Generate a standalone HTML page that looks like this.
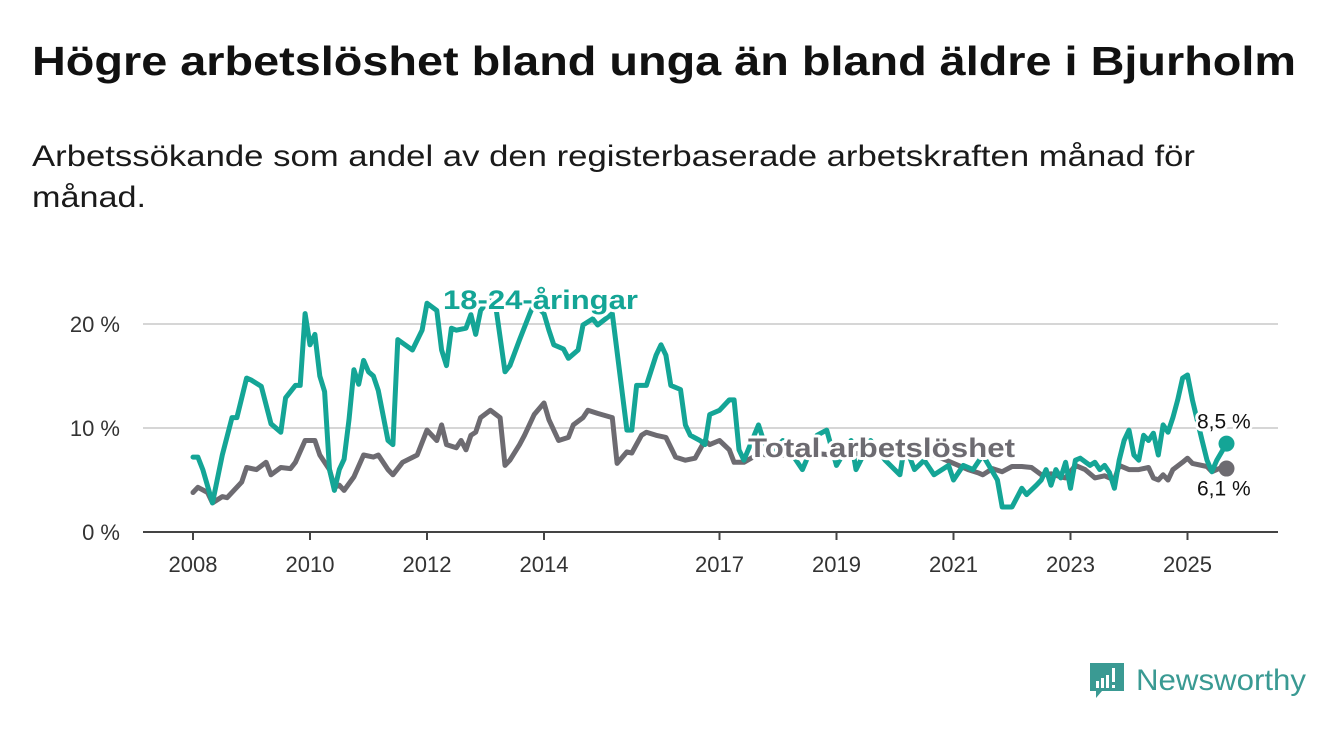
<!DOCTYPE html>
<html><head><meta charset="utf-8">
<style>
html,body{margin:0;padding:0;background:#fff;}
svg{display:block;font-family:"Liberation Sans",sans-serif;}
</style></head>
<body>
<svg id="chart" width="1340" height="734" viewBox="0 0 1340 734" xmlns="http://www.w3.org/2000/svg">
<text x="32" y="75" font-size="41" font-weight="bold" fill="#111" textLength="1264" lengthAdjust="spacingAndGlyphs">Högre arbetslöshet bland unga än bland äldre i Bjurholm</text>
<text x="32" y="166" font-size="30" fill="#1a1a1a" textLength="1163" lengthAdjust="spacingAndGlyphs">Arbetssökande som andel av den registerbaserade arbetskraften månad för</text>
<text x="32" y="207" font-size="30" fill="#1a1a1a" textLength="114" lengthAdjust="spacingAndGlyphs">månad.</text>
<g id="grid"></g>
<g id="series"></g>
<g id="labels"></g>
<g>
<path d="M1090 663 h34 v28 h-22 l-6 7 v-7 h-6 z" fill="#3a9a93"/>
<rect x="1096" y="681" width="3" height="7" fill="#fff"/>
<rect x="1101" y="678" width="3" height="10" fill="#fff"/>
<rect x="1106" y="675" width="3" height="13" fill="#fff"/>
<rect x="1112" y="668" width="3" height="14" fill="#fff"/>
<rect x="1112" y="685" width="3" height="3" fill="#fff"/>
<text x="1136" y="690" font-size="30" fill="#3a9a93" textLength="170" lengthAdjust="spacingAndGlyphs">Newsworthy</text>
</g>
</svg>
<script>
// months since Jan 2008
const youthMonths=[0,1,2,4,6,8,9,11,12,14,16,18,19,21,22,23,24,25,26,27,28,29,30,31,32,33,34,35,36,37,38,40,41,42,45,47,48,50,51,52,53,54,56,57,58,59,61,62,64,65,67,69,70,72,73,74,76,77,79,80,82,83,86,89,90,91,93,95,96,97,98,100,101,102,104,105,106,108,110,111,112,113,116,118,121,125,128,130,132,135,136,139,142,145,146,148,150,152,155,156,158,160,162,165,166,168,170,171,173,174,175,176,177,178,179,180,181,182,184,185,186,187,188,189,190,191,192,193,194,195,196,197,198,199,200,201,202,203,204,205,207,208,209,210,212];
const youthValues=[7.2,7.2,6.0,2.8,7.4,11,11,14.8,14.6,14,10.4,9.6,12.9,14.1,14.1,21,18,19,15,13.5,6,4,6,7,10.8,15.6,14.2,16.5,15.4,15,13.6,8.8,8.4,18.5,17.5,19.4,22,21.3,17.5,16,19.6,19.4,19.6,20.9,19,21.3,22.5,22,15.4,16,18.5,20.9,22,21,19.4,18,17.6,16.7,17.5,19.9,20.5,19.9,21,9.8,9.8,14.1,14.1,17,18,17,14.1,13.7,10.3,9.3,8.8,8.4,11.3,11.7,12.7,12.7,7.9,6.9,10.3,7.4,8.8,6,9.3,9.8,6.4,8.8,6,8.8,6.9,5.5,8.4,6,6.9,5.5,6.4,5,6.4,6,7.4,5,2.4,2.4,4.2,3.6,4.5,5,6,4.5,6,5.2,6.7,4.2,6.9,7.1,6.4,6.7,6.0,6.4,5.7,4.2,6.9,8.8,9.8,7.4,6.9,9.3,8.8,9.5,7.4,10.3,9.6,11,12.7,14.8,15.1,12.7,8.8,6.9,5.8,6.9,8.5];
const totalMonths=[0,1,3,4,6,7,10,11,13,15,16,18,20,21,23,25,26,28,29,30,31,33,35,37,38,40,41,43,46,48,50,51,52,54,55,56,57,58,59,61,63,64,65,67,68,70,72,73,75,77,78,80,81,83,86,87,89,90,92,93,95,97,99,101,103,105,106,108,110,111,113,116,120,125,129,133,137,141,145,149,153,157,159,161,162,164,166,168,170,172,174,176,178,179,181,183,185,187,189,190,192,194,196,197,198,199,200,201,203,204,205,208,209,211,212];
const totalValues=[3.8,4.3,3.8,2.8,3.4,3.3,4.8,6.2,6,6.7,5.5,6.2,6.1,6.7,8.8,8.8,7.4,6,4.3,4.5,4,5.3,7.4,7.2,7.4,6,5.5,6.7,7.4,9.8,8.8,10.3,8.4,8.1,8.8,7.9,9.3,9.6,11,11.7,11,6.4,6.9,8.4,9.3,11.3,12.4,10.8,8.8,9.1,10.3,11,11.7,11.4,11,6.6,7.7,7.6,9.3,9.6,9.3,9.1,7.2,6.9,7.1,8.8,8.4,8.8,7.9,6.7,6.7,7.5,7.3,7.8,7.5,7.3,7.6,7.8,8.3,7.8,7.2,6.4,6,5.7,5.5,6.1,5.8,6.3,6.3,6.2,5.5,5.6,5.3,5.2,6.4,6,5.2,5.4,5,6.4,6,6,6.2,5.2,5,5.5,5,6,6.7,7.1,6.6,6.3,5.8,6.2,6.1];
const yTicks=[0,10,20];
const yTickLabels=["0 %","10 %","20 %"];
const xTicks=[2008,2010,2012,2014,2017,2019,2021,2023,2025];

const NS="http://www.w3.org/2000/svg";
const X0=143,X1=1278;
function xYear(y){return 193+(y-2008)*58.5;}
function xMonth(m){return xYear(2008+m/12);}
function yVal(v){return 532-v*10.4;}
function mk(tag,attrs,parent){const e=document.createElementNS(NS,tag);for(const k in attrs)e.setAttribute(k,attrs[k]);parent.appendChild(e);return e;}
const grid=document.getElementById('grid'),series=document.getElementById('series'),labels=document.getElementById('labels');

yTicks.forEach((t,i)=>{
  if(t>0){const l=mk('line',{x1:X0,x2:X1,y1:yVal(t),y2:yVal(t),stroke:'#d6d6d6','stroke-width':2},grid);
  
  }
  const tx=mk('text',{x:120,y:yVal(t)+8,'font-size':22,fill:'#333','text-anchor':'end'},grid);
  tx.textContent=yTickLabels[i];
  
  
});
const base=mk('line',{x1:X0,x2:X1,y1:yVal(0),y2:yVal(0),stroke:'#444','stroke-width':2},grid);


xTicks.forEach(t=>{
  const tk=mk('line',{x1:xYear(t),x2:xYear(t),y1:533,y2:540,stroke:'#444','stroke-width':2},grid);
  
  
  const tx=mk('text',{x:xYear(t),y:572,'font-size':22,fill:'#333','text-anchor':'middle'},grid);
  tx.textContent=t;
  
  
});

function line(ms,vs,color,name){
  const d=ms.map((m,i)=>(i?'L':'M')+xMonth(m).toFixed(1)+' '+yVal(vs[i]).toFixed(1)).join(' ');
  const p=mk('path',{d:d,fill:'none',stroke:color,'stroke-width':5,'stroke-linejoin':'round','stroke-linecap':'round'},series);
  
  
  const n=ms.length-1;
  const c=mk('circle',{cx:xMonth(ms[n]),cy:yVal(vs[n]),r:8,fill:color},series);
  
  
}
line(totalMonths,totalValues,'#6d6b71','total-line');
line(youthMonths,youthValues,'#14a596','youth-line');

function label(txt,x,y,size,color,weight,name,len){
  const a={x:x,y:y,'font-size':size,fill:color,'font-weight':weight,stroke:'#fff','stroke-width':6,'paint-order':'stroke','stroke-linejoin':'round'};
  if(len){a.textLength=len;a.lengthAdjust='spacingAndGlyphs';}
  const t=mk('text',a,labels);
  t.textContent=txt;
  
  
  return t;
}
label('18-24-åringar',443,309,27,'#14a596','bold','youth-series-label',195);
label('Total arbetslöshet',748,457,27,'#6d6b71','bold','total-series-label',267);
const ny=youthValues[youthValues.length-1], nt=totalValues[totalValues.length-1];
label(ny.toFixed(1).replace('.',',')+' %',1197,yVal(ny)-15,21,'#111','normal','youth-end-value');
label(nt.toFixed(1).replace('.',',')+' %',1197,yVal(nt)+27,21,'#111','normal','total-end-value');
</script>
</body></html>
